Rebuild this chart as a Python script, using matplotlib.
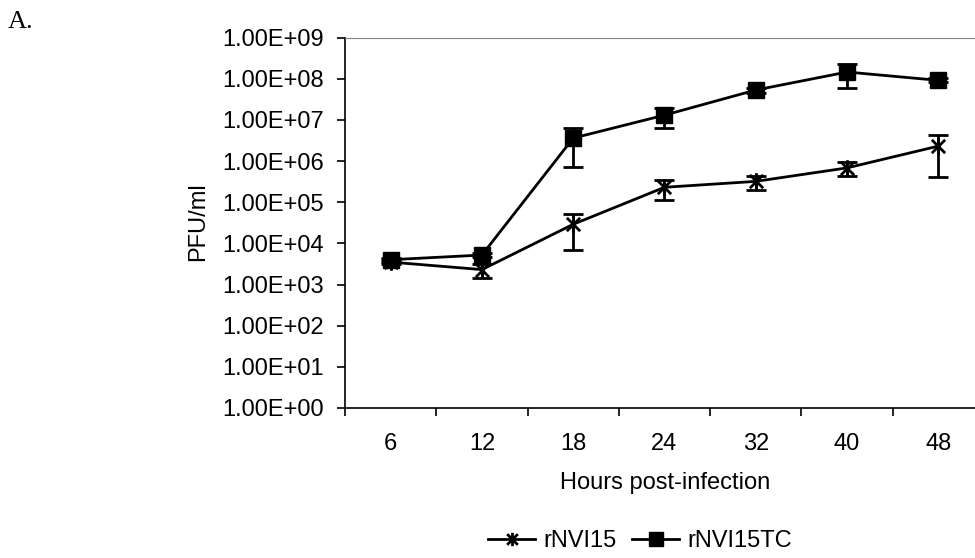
import numpy as np
import matplotlib.pyplot as plt
from matplotlib.path import Path

#------------------------------ Datos ------------------------------
horas = ['6', '12', '18', '24', '32', '40', '48']

# rNVI15 (PFU/ml) y su desviacion
rnvi15 = [3.5e3, 2.3e3, 2.9e4, 2.3e5, 3.2e5, 6.8e5, 2.3e6]
rnvi15_err = [0.4e3, 0.9e3, 2.2e4, 1.2e5, 1.2e5, 2.5e5, 1.9e6]

# rNVI15TC (PFU/ml) y su desviacion
rnvi15tc = [4.0e3, 5.2e3, 3.6e6, 1.3e7, 5.3e7, 1.45e8, 9.1e7]
rnvi15tc_err = [0.4e3, 0.6e3, 2.9e6, 6.7e6, 0.8e7, 8.5e7, 1.0e7]
#-------------------------------------------------------------------

plt.rcParams['font.family'] = ['Liberation Sans', 'DejaVu Sans']
FS = 17

# marcador tipo estrella de Excel: X con barra vertical
estrella = Path([(-1, -1), (1, 1), (-1, 1), (1, -1), (0, -1.25), (0, 1.25)],
                [Path.MOVETO, Path.LINETO, Path.MOVETO, Path.LINETO,
                 Path.MOVETO, Path.LINETO])

W, H = 975, 558
fig = plt.figure(figsize=(W / 100, H / 100), dpi=100)
ax = fig.add_axes([345 / W, 1 - 408 / H, (984 - 345) / W, (408 - 37.5) / H])

x = np.arange(len(horas))
ax.errorbar(x, rnvi15, yerr=rnvi15_err, color='black', lw=2,
            marker=estrella, ms=12, mfc='none', mec='black', mew=2,
            capsize=7, capthick=2, elinewidth=2, label='rNVI15')
ax.errorbar(x, rnvi15tc, yerr=rnvi15tc_err, color='black', lw=2,
            marker='s', ms=12, mfc='black', mec='black',
            capsize=7, capthick=2, elinewidth=2, label='rNVI15TC')

ax.set_yscale('log')
ax.set_ylim(1, 1e9)
ax.set_yticks([10.0 ** k for k in range(10)])
ax.set_yticklabels(['1.00E+%02d' % k for k in range(10)])
ax.minorticks_off()

ax.set_xlim(-0.5, len(horas) - 0.5)
ax.set_xticks(x)
ax.set_xticklabels(horas)
# marcas del eje x entre categorias
ax.set_xticks(np.arange(len(horas) + 1) - 0.5, minor=True)
ax.tick_params(axis='x', which='major', length=0, pad=18, labelsize=FS)
ax.tick_params(axis='x', which='minor', length=6, width=1.2, direction='out')
ax.tick_params(axis='y', length=6, width=1.2, pad=9, labelsize=FS)

ax.spines['right'].set_visible(False)
ax.spines['top'].set_color('#808080')
ax.spines['left'].set_linewidth(1.2)
ax.spines['bottom'].set_linewidth(1.2)

fig.text(198 / W, 1 - 222 / H, 'PFU/ml', rotation=90, ha='center', va='center', fontsize=FS)
fig.text(665 / W, 1 - 483 / H, 'Hours post-infection', ha='center', va='center', fontsize=FS)
fig.text(8 / W, 1 - 22 / H, 'A.', ha='left', va='center', fontsize=19,
         family=['Liberation Serif', 'DejaVu Serif'])

handles, labels = ax.get_legend_handles_labels()
handles = [h[0] for h in handles]
fig.legend(handles, labels, loc='center', bbox_to_anchor=(640 / W, 1 - 541 / H),
           ncol=2, frameon=False, fontsize=FS, handlelength=2.0,
           handletextpad=0.35, columnspacing=0.65, markerscale=0.8,
           borderpad=0, borderaxespad=0)

fig.savefig('out.png', dpi=100)
